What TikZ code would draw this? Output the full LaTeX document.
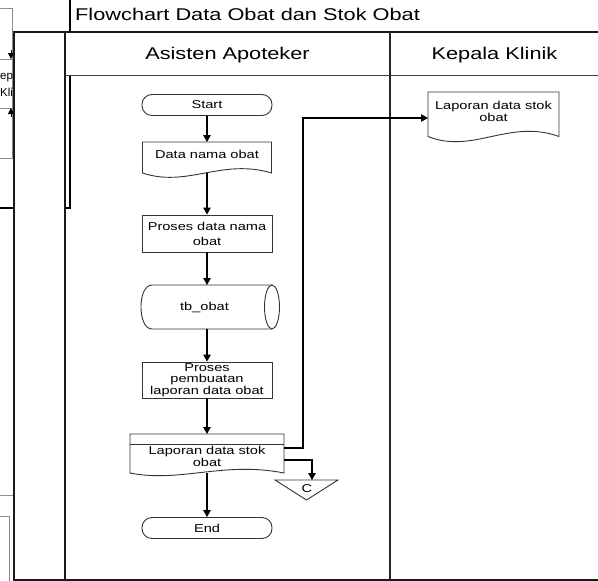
\documentclass[tikz,border=0pt]{standalone}
\usepackage{fontspec}
\setmainfont{Liberation Sans}[FakeStretch=1.28]
\newfontfamily\plainsans{Liberation Sans}
\usetikzlibrary{calc,arrows.meta}

\begin{document}
\begin{tikzpicture}[x=1pt,y=-1pt,
  every node/.style={font=\fontsize{11.4}{11.5}\selectfont},
  frameline/.style={draw=black!90, line width=1.3pt},
  laneline/.style={draw=black!85, line width=2pt},
  ghost/.style={draw=black!45, line width=1pt},
  heavy/.style={draw=black, line width=2pt},
  shp/.style={draw=black!80, line width=0.9pt},
  term/.style={shp, rounded corners=10pt, minimum width=130pt, minimum height=21pt, inner sep=0pt},
  proc/.style={shp, minimum width=130pt, inner sep=0pt, align=center},
  area/.style={inner sep=0pt, outer sep=0pt},
  lbl/.style={inner sep=0pt, align=center},
  head/.style={font=\fontsize{17}{20}\selectfont, inner sep=0pt, anchor=base},
  frag/.style={anchor=base west, inner sep=0pt, font=\plainsans\fontsize{11.5}{12}\selectfont},
  flow/.style={draw=black, line width=1.1pt, -{Triangle[length=7pt,width=7.5pt]}},
  tip/.style={draw=black, line width=0.8pt, -{Triangle[length=6pt,width=6pt]}}
]
\useasboundingbox (0,0) rectangle (598,581);

% partly covered chart on the left
\draw[ghost] (0,8) -- (12,8) -- (12,158) -- (0,158);
\draw[ghost] (0,59) -- (12,59);
\draw[ghost] (0,108) -- (12,108);
\draw[tip] (11,50) -- (11,59);
\draw[tip] (11,117) -- (11,108);
\begin{scope}
  \clip (0,0) rectangle (13,581);
  \node[frag] (fk1) at (-7.7,79) {Kepala};
  \node[frag] (fk2) at (0,96) {Klinik};
\end{scope}
\draw[heavy] (70,0) -- (70,32);
\draw[heavy] (70,75) -- (70,208) -- (65,208);
\draw[heavy] (0,208) -- (14,208);
\draw[ghost] (0,495) -- (13,495);
\draw[ghost] (0,516) -- (9,516) -- (9,581);

% swimlane frame
\draw[frameline] (598,32) -- (14,32) -- (14,580) -- (598,580);
\draw[frameline] (65,32) -- (65,580);
\draw[draw=black!75, line width=1pt] (65,75) -- (598,75);
\draw[laneline] (390,32) -- (390,580);

\node[head, anchor=base west] (title) at (75,20.7) {Flowchart Data Obat dan Stok Obat};
\node[head] (h1) at (227.5,59.3) {Asisten Apoteker};
\node[head] (h2) at (494.5,59.3) {Kepala Klinik};

% Asisten Apoteker lane
\node[term] (start) at (207,105) {Start};

\node[area, minimum width=129pt, minimum height=31pt] (d1) at (207,157.5) {};
\draw[shp] (d1.north west) -- (d1.north east) -- (d1.south east)
  .. controls ($(d1.south east)+(-50,-15)$) and ($(d1.south west)+(45,15)$) .. (d1.south west) -- cycle;
\node[lbl] (d1t) at ($(d1.center)+(0,-3.5)$) {Data nama obat};

\node[proc, minimum height=37pt, font=\fontsize{11.4}{15}\selectfont] (p1) at (207,233.5) {Proses data nama\\obat};

\node[area, minimum width=120pt, minimum height=44pt] (tb) at (212,307) {};
\draw[shp] (tb.north east) -- (tb.north west)
  .. controls ($(tb.north west)+(-14.7,0)$) and ($(tb.south west)+(-14.7,0)$) .. (tb.south west)
  -- (tb.south east);
\draw[shp] (tb.east) ellipse [x radius=7.5pt, y radius=22pt];
\node[lbl] (tbt) at (204.5,307) {tb\_obat};

\node[proc, minimum height=36pt] (p2) at (207,380) {Proses\\pembuatan\\laporan data obat};

\node[area, minimum width=154pt, minimum height=39pt] (lap) at (207,453.5) {};
\draw[shp] (lap.north west) -- (lap.north east) -- (lap.south east)
  .. controls ($(lap.south east)+(-60,-12)$) and ($(lap.south west)+(50,10)$) .. (lap.south west) -- cycle;
\draw[shp] ($(lap.north west)+(0,10)$) -- ($(lap.north east)+(0,10)$);
\node[lbl] (lapt) at ($(lap.center)+(0,3)$) {Laporan data stok\\obat};

\node[term] (end) at (207,528) {End};

\node[area, minimum width=63pt, minimum height=20pt] (offc) at (306.5,490) {};
\draw[shp] (offc.north west) -- (offc.north east) -- (offc.south) -- cycle;
\node[lbl] (offct) at (307,489) {C};

% Kepala Klinik lane
\node[area, minimum width=131pt, minimum height=44.5pt] (kdoc) at (493.5,114.25) {};
\draw[shp] (kdoc.north west) -- (kdoc.north east) -- (kdoc.south east)
  .. controls ($(kdoc.south east)+(-50,-18)$) and ($(kdoc.south west)+(45,18)$) .. (kdoc.south west) -- cycle;
\node[lbl] (kdoct) at ($(kdoc.center)+(0,-3)$) {Laporan data stok\\obat};

% connectors
\draw[flow] (start.south) -- (d1.north);
\draw[flow] (d1.south) -- (p1.north);
\draw[flow] (p1.south) -- (p1.south |- tb.north);
\draw[flow] (p1.south |- tb.south) -- (p2.north);
\draw[flow] (p2.south) -- (lap.north);
\draw[flow] (lap.south) -- (end.north);
\draw[flow] ($(lap.east)+(0,-5.5)$) -- ++(19,0) |- ($(kdoc.west)+(0,3.75)$);
\draw[flow] ($(lap.east)+(0,6.5)$) -| ([xshift=5.5pt]offc.north);
\end{tikzpicture}
\end{document}
